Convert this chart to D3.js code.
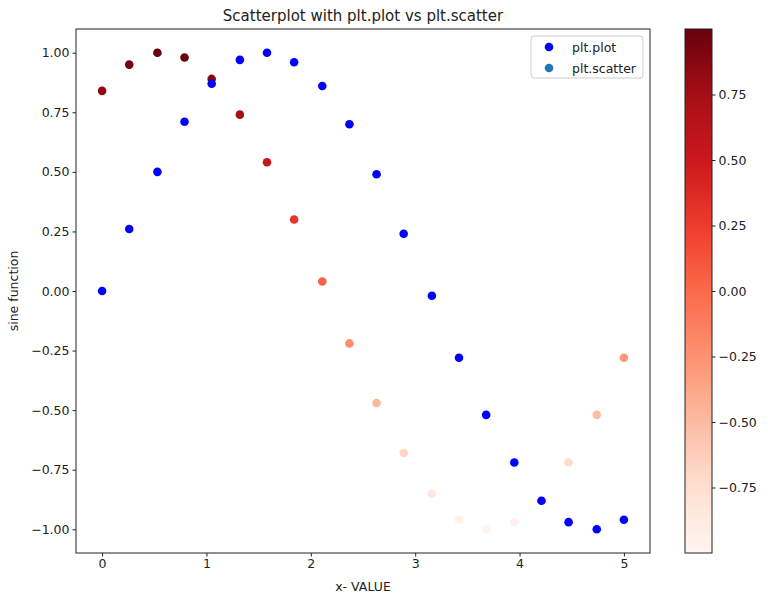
<!DOCTYPE html>
<html lang="en">
<head>
    <meta charset="UTF-8"/>
    <title>Scatterplot with plt.plot vs plt.scatter</title>
    <script src="https://d3js.org/d3.v7.min.js"></script>
    <style>
        body { margin: 0; background: #fff; }
        svg text { font-family: "DejaVu Sans", sans-serif; fill: #222; }
        .axis path, .axis line { stroke: #222; }
    </style>
</head>
<body>
    <div id="chart"></div>

    <script>
        // x positions (20 evenly spaced samples from 0 to 5)
        var xValues = [0.00, 0.26, 0.53, 0.79, 1.05, 1.32, 1.58, 1.84, 2.11, 2.37,
                       2.63, 2.89, 3.16, 3.42, 3.68, 3.95, 4.21, 4.47, 4.74, 5.00];
        // blue points (plt.plot)
        var plotValues = [0.00, 0.26, 0.50, 0.71, 0.87, 0.97, 1.00, 0.96, 0.86, 0.70,
                          0.49, 0.24, -0.02, -0.28, -0.52, -0.72, -0.88, -0.97, -1.00, -0.96];
        // coloured points (plt.scatter), colour = value
        var scatterValues = [0.84, 0.95, 1.00, 0.98, 0.89, 0.74, 0.54, 0.30, 0.04, -0.22,
                             -0.47, -0.68, -0.85, -0.96, -1.00, -0.97, -0.88, -0.72, -0.52, -0.28];
        var xTicks = [0, 1, 2, 3, 4, 5];
        var yTicks = [-1.00, -0.75, -0.50, -0.25, 0.00, 0.25, 0.50, 0.75, 1.00];
        var cbTicks = [-0.75, -0.50, -0.25, 0.00, 0.25, 0.50, 0.75];
        var legendLabels = ["plt.plot", "plt.scatter"];

        var width = 768;
        var height = 602;
        var plot = { left: 76, right: 650, top: 29, bottom: 553 };
        var bar = { left: 685, right: 712 };
        var fs = "12.5px";

        var svg = d3.select("#chart")
            .append("svg")
            .attr("width", width)
            .attr("height", height);

        // Scales
        var xScale = d3.scaleLinear()
            .domain([-0.25, 5.25])
            .range([plot.left, plot.right]);

        var yScale = d3.scaleLinear()
            .domain([-1.0995, 1.0995])
            .range([plot.bottom, plot.top]);

        var cMin = d3.min(scatterValues), cMax = d3.max(scatterValues);
        var reds = d3.piecewise(d3.interpolateRgb, d3.schemeReds[9]);
        var colour = d3.scaleSequential(reds).domain([cMin, cMax]);

        var cbScale = d3.scaleLinear()
            .domain([cMin, cMax])
            .range([plot.bottom, plot.top]);

        var points = xValues.map(function(x, i) {
            return { x: x, p: plotValues[i], s: scatterValues[i] };
        });

        // plt.scatter points (drawn underneath, like matplotlib's zorder)
        svg.append("g")
            .selectAll("circle")
            .data(points)
            .enter()
            .append("circle")
            .attr("cx", function(d) { return xScale(d.x); })
            .attr("cy", function(d) { return yScale(d.s); })
            .attr("r", 4.3)
            .attr("fill", function(d) { return colour(d.s); });

        // plt.plot points on top
        svg.append("g")
            .selectAll("circle")
            .data(points)
            .enter()
            .append("circle")
            .attr("cx", function(d) { return xScale(d.x); })
            .attr("cy", function(d) { return yScale(d.p); })
            .attr("r", 4.3)
            .attr("fill", "#0000ff");

        var minusFmt = function(d) { return d3.format(".2f")(d).replace("-", "\u2212"); };

        // Axes
        svg.append("g")
            .attr("class", "axis")
            .attr("transform", "translate(0," + plot.bottom + ")")
            .call(d3.axisBottom(xScale).tickValues(xTicks).tickSize(3.5).tickPadding(3)
                .tickFormat(d3.format("d")))
            .call(function(g) { g.select(".domain").remove(); })
            .selectAll("text").attr("font-size", fs).attr("fill", "#222");

        svg.append("g")
            .attr("class", "axis")
            .attr("transform", "translate(" + plot.left + ",0)")
            .call(d3.axisLeft(yScale).tickValues(yTicks).tickSize(3.5).tickPadding(3)
                .tickFormat(minusFmt))
            .call(function(g) { g.select(".domain").remove(); })
            .selectAll("text").attr("font-size", fs).attr("fill", "#222");

        // Frame
        svg.append("rect")
            .attr("x", plot.left)
            .attr("y", plot.top)
            .attr("width", plot.right - plot.left)
            .attr("height", plot.bottom - plot.top)
            .attr("fill", "none")
            .attr("stroke", "#222")
            .attr("stroke-width", 1);

        // Title and labels
        svg.append("text")
            .attr("x", (plot.left + plot.right) / 2)
            .attr("y", 21)
            .attr("text-anchor", "middle")
            .attr("font-size", "15px")
            .text("Scatterplot with plt.plot vs plt.scatter");

        svg.append("text")
            .attr("x", (plot.left + plot.right) / 2)
            .attr("y", 591)
            .attr("text-anchor", "middle")
            .attr("font-size", fs)
            .text("x- VALUE");

        svg.append("text")
            .attr("transform", "translate(18," + ((plot.top + plot.bottom) / 2) + ")rotate(-90)")
            .attr("text-anchor", "middle")
            .attr("font-size", fs)
            .text("sine function");

        // Legend
        var legend = svg.append("g").attr("transform", "translate(531,36)");
        legend.append("rect")
            .attr("width", 112)
            .attr("height", 42)
            .attr("rx", 3)
            .attr("fill", "#fff")
            .attr("fill-opacity", 0.8)
            .attr("stroke", "#ccc");
        var legendColours = ["#0000ff", "#1f77b4"];
        legend.selectAll("circle")
            .data(legendLabels)
            .enter()
            .append("circle")
            .attr("cx", 18)
            .attr("cy", function(d, i) { return 11 + i * 21; })
            .attr("r", 4.3)
            .attr("fill", function(d, i) { return legendColours[i]; });
        legend.selectAll("text")
            .data(legendLabels)
            .enter()
            .append("text")
            .attr("x", 41)
            .attr("y", function(d, i) { return 15.5 + i * 21; })
            .attr("font-size", fs)
            .text(function(d) { return d; });

        // Colorbar
        var defs = svg.append("defs");
        var grad = defs.append("linearGradient")
            .attr("id", "cbGrad")
            .attr("x1", 0).attr("y1", 1)
            .attr("x2", 0).attr("y2", 0);
        d3.range(0, 1.0001, 0.05).forEach(function(t) {
            grad.append("stop")
                .attr("offset", t)
                .attr("stop-color", reds(t));
        });
        svg.append("rect")
            .attr("x", bar.left)
            .attr("y", plot.top)
            .attr("width", bar.right - bar.left)
            .attr("height", plot.bottom - plot.top)
            .attr("fill", "url(#cbGrad)")
            .attr("stroke", "#222")
            .attr("stroke-width", 1);

        svg.append("g")
            .attr("class", "axis")
            .attr("transform", "translate(" + bar.right + ",0)")
            .call(d3.axisRight(cbScale).tickValues(cbTicks).tickSize(3.5).tickPadding(3)
                .tickFormat(minusFmt))
            .call(function(g) { g.select(".domain").remove(); })
            .selectAll("text").attr("font-size", fs).attr("fill", "#222");
    </script>
</body>
</html>
